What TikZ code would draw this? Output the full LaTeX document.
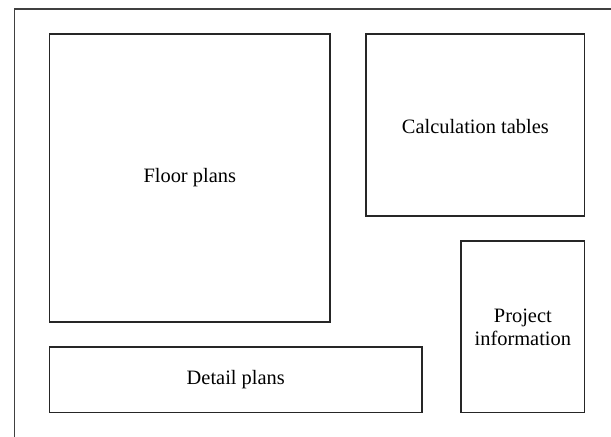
\documentclass[tikz,border=0pt]{standalone}
\usepackage{fontspec}
\setmainfont{Liberation Serif}
\begin{document}
\begin{tikzpicture}[x=1bp,y=-1bp,
  panel/.style={draw=black!85, line width=1.4bp},
  lbl/.style={align=center, inner sep=0pt, font=\fontsize{20.5}{23}\selectfont},
  frame/.style={draw=black!75, line width=1.2bp}]
\useasboundingbox (0,0) rectangle (611,437);
\draw[frame] (611,9) -- (14.3,9) -- (14.3,437);
\draw[panel] (49.5,34) rectangle (330,322);
\node[lbl] (floor) at (189.75,178) {Floor plans};
\draw[panel] (366,34) rectangle (584.7,216);
\node[lbl] (calc) at (475.35,127) {Calculation tables};
\draw[panel] (461,241) rectangle (584.7,412.5);
\node[lbl] (proj) at (522.85,327) {Project\\information};
\draw[panel] (49.5,347) rectangle (422,412.5);
\node[lbl] (detail) at (235.75,380) {Detail plans};
\end{tikzpicture}
\end{document}
